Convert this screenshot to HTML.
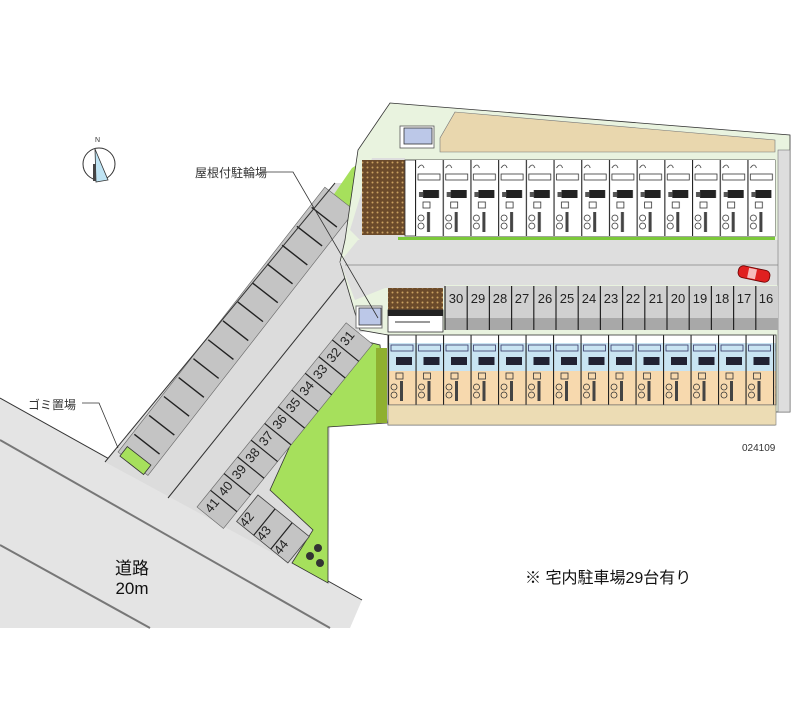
<!DOCTYPE html>
<html><head><meta charset="utf-8"><style>
html,body{margin:0;padding:0;background:#fff;}
svg{display:block;}
text{font-family:"Liberation Sans","Noto Sans CJK JP",sans-serif;}
</style></head><body>
<svg width="800" height="727" viewBox="0 0 800 727" xmlns="http://www.w3.org/2000/svg">
<defs>
<pattern id="unitT" x="415" y="160" width="27.7" height="76" patternUnits="userSpaceOnUse">
<rect width="27.7" height="76" fill="#fff"/>
<line x1="0.5" y1="0" x2="0.5" y2="76" stroke="#222" stroke-width="1.2"/>
<rect x="3" y="14" width="22" height="6" fill="none" stroke="#333" stroke-width="0.8"/>
<rect x="8" y="30" width="16" height="8" fill="#222"/>
<rect x="4" y="32" width="4" height="5" fill="#555"/>
<rect x="8" y="42" width="7" height="6" fill="none" stroke="#333" stroke-width="0.8"/>
<circle cx="6" cy="58" r="3" fill="none" stroke="#333" stroke-width="0.8"/>
<circle cx="6" cy="66" r="3" fill="none" stroke="#333" stroke-width="0.8"/>
<rect x="12" y="52" width="3" height="20" fill="#444"/>
<path d="M3 8 q4 -6 6 0" fill="none" stroke="#333" stroke-width="0.8"/>
</pattern>
<pattern id="unitB" x="388" y="335" width="27.5" height="70" patternUnits="userSpaceOnUse">
<rect width="27.5" height="70" fill="#f7d9ae"/>
<rect width="27.5" height="36" y="0" fill="#c9e4f2"/>
<rect width="27.5" height="8" y="0" fill="#fff"/>
<line x1="0.5" y1="0" x2="0.5" y2="70" stroke="#222" stroke-width="1.2"/>
<rect x="3" y="10" width="22" height="6" fill="none" stroke="#336" stroke-width="0.8"/>
<rect x="8" y="22" width="16" height="8" fill="#223"/>
<rect x="8" y="38" width="7" height="6" fill="none" stroke="#333" stroke-width="0.8"/>
<circle cx="6" cy="52" r="3" fill="none" stroke="#333" stroke-width="0.8"/>
<circle cx="6" cy="60" r="3" fill="none" stroke="#333" stroke-width="0.8"/>
<rect x="12" y="46" width="3" height="20" fill="#444"/>
</pattern>
<pattern id="brick" width="5" height="5" patternUnits="userSpaceOnUse">
<rect width="5" height="5" fill="#6b4a2a"/><circle cx="2.5" cy="2.5" r="1" fill="#c8a060"/>
</pattern>
</defs>

<!-- road -->
<polygon points="0,398 362,600 350,628 0,628" fill="#e4e4e4"/>
<line x1="0" y1="398" x2="362" y2="600" stroke="#333" stroke-width="1"/>
<line x1="0" y1="440" x2="330" y2="628" stroke="#777" stroke-width="2"/>
<line x1="0" y1="545" x2="150" y2="628" stroke="#777" stroke-width="2"/>

<!-- lot light grey base -->
<polygon points="105,462 335,183 390,183 390,245 380,250 380,330 340,335 330,425 328,583 105,462" fill="#dcdcdc"/>
<!-- green areas -->
<polygon points="340,335 380,345 387,423 328,427 328,583 292,563 313,530 270,490" fill="#a6e05c" stroke="#333" stroke-width="0.8"/>
<polygon points="330,200 352,168 360,163 360,215" fill="#a6e05c"/>
<polygon points="376,348 387,348 387,423 376,423" fill="#8fb030"/>

<!-- left row spaces -->
<g transform="translate(118,452) rotate(-52)">
<rect x="0" y="0" width="336" height="38" fill="#c4c4c4" stroke="#666" stroke-width="0.6"/>
<g stroke="#222" stroke-width="1.4">
<line x1="24" y1="2" x2="24" y2="34"/><line x1="48" y1="2" x2="48" y2="34"/><line x1="72" y1="2" x2="72" y2="34"/>
<line x1="96" y1="2" x2="96" y2="34"/><line x1="120" y1="2" x2="120" y2="34"/><line x1="144" y1="2" x2="144" y2="34"/>
<line x1="168" y1="2" x2="168" y2="34"/><line x1="192" y1="2" x2="192" y2="34"/><line x1="216" y1="2" x2="216" y2="34"/>
<line x1="240" y1="2" x2="240" y2="34"/><line x1="264" y1="2" x2="264" y2="34"/><line x1="288" y1="2" x2="288" y2="34"/>
<line x1="312" y1="2" x2="312" y2="34"/>
</g>
<rect x="-2" y="4" width="12" height="30" fill="#a6e05c" stroke="#333" stroke-width="0.8"/>
</g>
<line x1="105" y1="462" x2="335" y2="183" stroke="#333" stroke-width="1"/>
<line x1="168" y1="498" x2="357" y2="263" stroke="#333" stroke-width="1"/>

<!-- numbered row 31-41 -->
<g transform="translate(197,507) rotate(-51)">
<rect x="0" y="0" width="237" height="34" fill="#c4c4c4" stroke="#666" stroke-width="0.6"/>
<g stroke="#222" stroke-width="1.2">
<line x1="21.5" y1="0" x2="21.5" y2="34"/><line x1="43" y1="0" x2="43" y2="34"/><line x1="64.5" y1="0" x2="64.5" y2="34"/>
<line x1="86" y1="0" x2="86" y2="34"/><line x1="107.5" y1="0" x2="107.5" y2="34"/><line x1="129" y1="0" x2="129" y2="34"/>
<line x1="150.5" y1="0" x2="150.5" y2="34"/><line x1="172" y1="0" x2="172" y2="34"/><line x1="193.5" y1="0" x2="193.5" y2="34"/>
<line x1="215" y1="0" x2="215" y2="34"/>
</g>
<g font-size="13" fill="#222" text-anchor="middle">
<text x="10.7" y="15">41</text><text x="32.2" y="15">40</text><text x="53.7" y="15">39</text><text x="75.2" y="15">38</text>
<text x="96.7" y="15">37</text><text x="118.2" y="15">36</text><text x="139.7" y="15">35</text><text x="161.2" y="15">34</text>
<text x="182.7" y="15">33</text><text x="204.2" y="15">32</text><text x="225.7" y="15">31</text>
</g>
</g>
<!-- 42-44 -->
<g transform="translate(258,495) rotate(39)">
<rect x="0" y="0" width="66" height="34" fill="#c4c4c4" stroke="#444" stroke-width="0.8"/>
<line x1="22" y1="0" x2="22" y2="34" stroke="#222" stroke-width="1.2"/>
<line x1="44" y1="0" x2="44" y2="34" stroke="#222" stroke-width="1.2"/>
<g font-size="13" fill="#222" text-anchor="middle">
<text transform="translate(11,26) rotate(-90)">42</text>
<text transform="translate(33,26) rotate(-90)">43</text>
<text transform="translate(55,26) rotate(-90)">44</text>
</g>
</g>
<circle cx="318" cy="548" r="4" fill="#333"/><circle cx="310" cy="556" r="4" fill="#333"/><circle cx="320" cy="563" r="4" fill="#333"/>

<!-- building site -->
<polygon points="390,103 790,135 790,412 775,412 775,425 388,425 388,335 360,330 340,262 345,240 358,150" fill="#e9f3df" stroke="#333" stroke-width="0.8"/>
<polygon points="455,112 775,140 775,152 440,152 440,138" fill="#e9d7ae" stroke="#777" stroke-width="0.6"/>
<rect x="400" y="126" width="34" height="22" fill="#fff" stroke="#555" stroke-width="0.8"/>
<rect x="404" y="128" width="28" height="16" fill="#bcc8e8" stroke="#333" stroke-width="0.8"/>
<polygon points="372,158 405,158 405,240 360,240 350,230" fill="#ddd"/>
<rect x="362" y="160" width="43" height="75" fill="url(#brick)"/>
<rect x="405" y="160" width="370" height="76" fill="#fff" stroke="#333" stroke-width="0.8"/>
<rect x="415" y="160" width="360" height="76" fill="url(#unitT)"/>
<rect x="398" y="237" width="377" height="4" fill="#7cc93a"/>
<!-- drive -->
<polygon points="340,262 358,240 780,240 780,285 445,285 445,288 385,288 355,300" fill="#dedede"/>
<line x1="345" y1="265" x2="780" y2="265" stroke="#999" stroke-width="1"/>
<rect x="778" y="150" width="12" height="262" fill="#ddd" stroke="#777" stroke-width="0.6"/>
<!-- parking 16-30 -->
<rect x="445" y="286" width="333" height="34" fill="#d0d0d0"/>
<rect x="445" y="318" width="333" height="12" fill="#a8a8a8"/>
<g stroke="#222" stroke-width="1.2">
<line x1="445" y1="286" x2="445" y2="330"/><line x1="467.2" y1="286" x2="467.2" y2="330"/><line x1="489.4" y1="286" x2="489.4" y2="330"/>
<line x1="511.6" y1="286" x2="511.6" y2="330"/><line x1="533.8" y1="286" x2="533.8" y2="330"/><line x1="556" y1="286" x2="556" y2="330"/>
<line x1="578.2" y1="286" x2="578.2" y2="330"/><line x1="600.4" y1="286" x2="600.4" y2="330"/><line x1="622.6" y1="286" x2="622.6" y2="330"/>
<line x1="644.8" y1="286" x2="644.8" y2="330"/><line x1="667" y1="286" x2="667" y2="330"/><line x1="689.2" y1="286" x2="689.2" y2="330"/>
<line x1="711.4" y1="286" x2="711.4" y2="330"/><line x1="733.6" y1="286" x2="733.6" y2="330"/><line x1="755.8" y1="286" x2="755.8" y2="330"/>
</g>
<g font-size="13" fill="#222" text-anchor="middle">
<text x="456" y="303">30</text><text x="478" y="303">29</text><text x="500" y="303">28</text><text x="522" y="303">27</text>
<text x="545" y="303">26</text><text x="567" y="303">25</text><text x="589" y="303">24</text><text x="611" y="303">23</text>
<text x="633" y="303">22</text><text x="656" y="303">21</text><text x="678" y="303">20</text><text x="700" y="303">19</text>
<text x="722" y="303">18</text><text x="744" y="303">17</text><text x="766" y="303">16</text>
</g>
<!-- car -->
<g transform="translate(754,274) rotate(12)"><rect x="-16" y="-6" width="32" height="12" rx="5" fill="#e02020" stroke="#600" stroke-width="0.8"/><rect x="-6" y="-5" width="8" height="10" fill="#fff" opacity="0.7"/></g>
<!-- small building area -->
<rect x="388" y="288" width="55" height="22" fill="url(#brick)"/>
<rect x="388" y="310" width="55" height="22" fill="#fff" stroke="#333" stroke-width="0.8"/>
<rect x="388" y="310" width="55" height="6" fill="#222"/>
<line x1="395" y1="322" x2="430" y2="322" stroke="#333"/>
<rect x="356" y="306" width="26" height="22" fill="#fff" stroke="#777"/>
<rect x="359" y="308" width="22" height="17" fill="#bcc8e8" stroke="#333" stroke-width="0.8"/>
<!-- bottom units -->
<rect x="388" y="335" width="388" height="70" fill="url(#unitB)" stroke="#333" stroke-width="0.8"/>
<rect x="388" y="405" width="388" height="20" fill="#ecdcb4" stroke="#777" stroke-width="0.6"/>

<!-- leader lines -->
<polyline points="262,172 293,172 378,318" fill="none" stroke="#333" stroke-width="0.8"/>
<polyline points="82,403 99,403 118,448" fill="none" stroke="#333" stroke-width="0.8"/>

<!-- labels -->
<text x="195" y="177" font-size="12" fill="#333">屋根付駐輪場</text>
<text x="28" y="409" font-size="12" fill="#333">ゴミ置場</text>
<text x="132" y="574" font-size="17" fill="#111" text-anchor="middle">道路</text>
<text x="132" y="594" font-size="17" fill="#111" text-anchor="middle">20m</text>
<text x="525" y="583" font-size="16" fill="#111">※ 宅内駐車場29台有り</text>
<text x="742" y="451" font-size="10" fill="#333">024109</text>

<!-- compass -->
<circle cx="99" cy="164" r="16" fill="none" stroke="#333" stroke-width="1"/>
<polygon points="95,149 108,180 96,182" fill="#bfe4f4" stroke="#333" stroke-width="0.8"/>
<rect x="93" y="164" width="3" height="17" fill="#444"/>
<text x="95" y="142" font-size="7" fill="#333">N</text>
</svg>
</body></html>
